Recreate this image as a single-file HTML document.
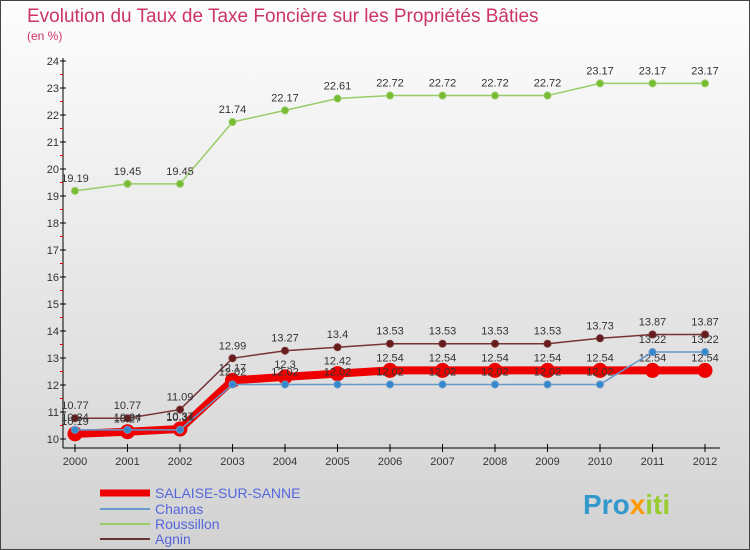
<!DOCTYPE html>
<html><head><meta charset="utf-8"><style>
body{margin:0}
#c{position:relative;width:750px;height:550px;overflow:hidden;font-family:"Liberation Sans",sans-serif}
</style></head><body>
<div id="c">
<svg id="s" width="750" height="550" xmlns="http://www.w3.org/2000/svg">
<defs><linearGradient id="bg" x1="0" y1="0" x2="0" y2="1"><stop offset="0" stop-color="#fdfdfd"/><stop offset="1" stop-color="#d2d2d2"/></linearGradient></defs>
<rect x="0.5" y="0.5" width="749" height="549" fill="url(#bg)" stroke="#444"/>
<text x="27" y="22" font-size="19" fill="#cc3366">Evolution du Taux de Taxe Foncière sur les Propriétés Bâties</text>
<text x="27" y="40" font-size="12" fill="#cc3366">(en %)</text>
<g id="g"></g>
<g>
<line x1="100" y1="493" x2="150" y2="493" stroke="#ee0000" stroke-width="7"/>
<text x="155" y="498" font-size="14" fill="#5566dd">SALAISE-SUR-SANNE</text>
<line x1="100" y1="509" x2="150" y2="509" stroke="#6699cc" stroke-width="2"/>
<text x="155" y="514" font-size="14" fill="#5566dd">Chanas</text>
<line x1="100" y1="524" x2="150" y2="524" stroke="#99cc66" stroke-width="2"/>
<text x="155" y="529" font-size="14" fill="#5566dd">Roussillon</text>
<line x1="100" y1="539" x2="150" y2="539" stroke="#663333" stroke-width="2"/>
<text x="155" y="544" font-size="14" fill="#5566dd">Agnin</text>
</g>
<text x="583" y="514" font-size="28" font-weight="bold" fill="#3399cc">Pro<tspan fill="#ff9900">x</tspan><tspan fill="#99cc33">iti</tspan></text>
</svg>
</div>
<script>
const years=["2000","2001","2002","2003","2004","2005","2006","2007","2008","2009","2010","2011","2012"];
const yTicks=[10,11,12,13,14,15,16,17,18,19,20,21,22,23,24];
const salaise=[10.19,10.27,10.37,12.17,12.3,12.42,12.54,12.54,12.54,12.54,12.54,12.54,12.54];
const chanas=[10.34,10.34,10.34,12.02,12.02,12.02,12.02,12.02,12.02,12.02,12.02,13.22,13.22];
const roussillon=[19.19,19.45,19.45,21.74,22.17,22.61,22.72,22.72,22.72,22.72,23.17,23.17,23.17];
const agnin=[10.77,10.77,11.09,12.99,13.27,13.4,13.53,13.53,13.53,13.53,13.73,13.87,13.87];
const NS="http://www.w3.org/2000/svg",g=document.getElementById('g');
const X=i=>75+i*52.5, Y=v=>439-(v-10)*27;
function el(t,a){const e=document.createElementNS(NS,t);for(const k in a)e.setAttribute(k,a[k]);g.appendChild(e);return e;}
let e=el('line',{x1:63,y1:58,x2:63,y2:448,stroke:'#000'});


e=el('line',{x1:63,y1:448,x2:720,y2:448,stroke:'#000'});


yTicks.forEach(v=>{
 const t=el('text',{x:59,y:Y(v)+4,'font-size':11,fill:'#333','text-anchor':'end'});t.textContent=v;
 
 
 const l=el('line',{x1:60,y1:Y(v),x2:66,y2:Y(v),stroke:'#000'});
 
 
 if(v<24){const m=el('line',{x1:60,y1:Y(v+0.5),x2:63,y2:Y(v+0.5),stroke:'#e00'});
 
 }
});
years.forEach((y,i)=>{
 const l=el('line',{x1:X(i),y1:444,x2:X(i),y2:452,stroke:'#000'});
 
 
 const t=el('text',{x:X(i),y:465,'font-size':11,fill:'#333','text-anchor':'middle'});t.textContent=y;
 
 
});
function series(d,name,col,w,mc,r){
 const p=el('polyline',{points:d.map((v,i)=>X(i)+','+Y(v)).join(' '),fill:'none',stroke:col,'stroke-width':w});
 
 
 d.forEach((v,i)=>{
  const c=el('circle',{cx:X(i),cy:Y(v),r:r,fill:mc,stroke:col,'stroke-width':1});
  
  
  const t=el('text',{x:X(i),y:Y(v)-9,'font-size':11,fill:'#333','text-anchor':'middle'});t.textContent=v;
  
  
 });
}
series(roussillon,'roussillon','#99cc66',1.5,'#77bb33',3.5);
series(agnin,'agnin','#773333',1.5,'#661c1c',3.5);
series(salaise,'salaise','#ee0000',8,'#ee0000',7);
series(chanas,'chanas','#6699cc',1.5,'#3388cc',3.5);
</script>
</body></html>
